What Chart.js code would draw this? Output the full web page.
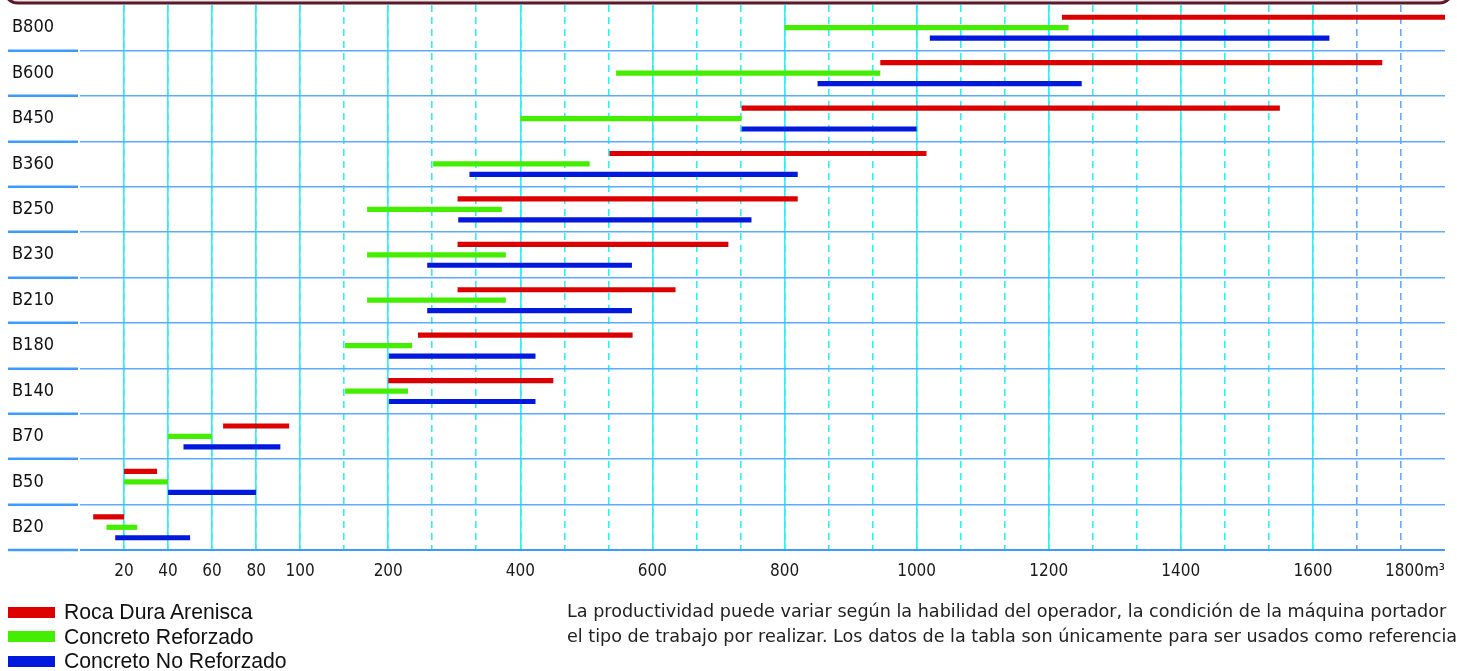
<!DOCTYPE html>
<html>
<head>
<meta charset="utf-8">
<script src="https://cdn.jsdelivr.net/npm/chart.js@4.4.1/dist/chart.umd.min.js"></script>
<style>
  html, body { margin: 0; padding: 0; background: #fff; overflow: hidden; }
  #wrap { position: relative; width: 1457px; height: 671px; overflow: hidden; }
  #chart { position: absolute; left: 0; top: 0; }
  #legend { position: absolute; left: 8px; top: 600px; font: 21.2px 'Liberation Sans', Arial, sans-serif; color: #111; }
  .item { display: flex; align-items: center; height: 24.5px; }
  .swatch { width: 47px; height: 11px; margin-right: 9px; }
  #note { position: absolute; left: 567px; top: 599px; font: 17.6px 'DejaVu Sans', sans-serif; line-height: 25px; color: #222; white-space: nowrap; }
</style>
</head>
<body>
<div id="wrap">
  <canvas id="chart" width="1457" height="671"></canvas>
  <div id="legend"></div>
  <div id="note">La productividad puede variar según la habilidad del operador, la condición de la máquina portador<br>el tipo de trabajo por realizar. Los datos de la tabla son únicamente para ser usados como referencia</div>
</div>
<script>
// breaker models, top row first
const categories = ['B800', 'B600', 'B450', 'B360', 'B250', 'B230', 'B210', 'B180', 'B140', 'B70', 'B50', 'B20'];
const seriesNames = ['Roca Dura Arenisca', 'Concreto Reforzado', 'Concreto No Reforzado'];
const seriesColors = ['#dc0000', '#44ee00', '#0019dc'];

// productivity ranges in m3, [from, to] per model
const rocaDura = [[1220, 1800], [945, 1705], [735, 1550], [535, 1015], [305, 820], [305, 715], [305, 635], [245, 570], [200, 450], [65, 95], [20, 35], [6, 20]];
const concretoReforzado = [[800, 1230], [545, 945], [400, 735], [268, 505], [176, 372], [176, 378], [176, 378], [151, 236], [151, 230], [40, 60], [20, 40], [12, 26]];
const concretoNoReforzado = [[1020, 1625], [850, 1250], [735, 1000], [323, 820], [306, 750], [259, 569], [259, 569], [201, 423], [201, 423], [47, 91], [40, 80], [16, 50]];

const tickValues = [20, 40, 60, 80, 100, 200, 400, 600, 800, 1000, 1200, 1400, 1600, 1800];
const tickLabels = ['20', '40', '60', '80', '100', '200', '400', '600', '800', '1000', '1200', '1400', '1600', '1800m³'];

const seriesData = [rocaDura, concretoReforzado, concretoNoReforzado];

// The value axis is broken: 0-100 in steps of 20, 100-200 in steps of 50,
// then steps of 200/3 up to 1800. Every step has the same width.
const STEPS = 31;
function toStep(v) {
  if (v <= 100) return v / 20;
  if (v <= 200) return 5 + (v - 100) / 50;
  return 7 + (v - 200) * 3 / 200;
}
function fromStep(p) {
  if (p <= 5) return p * 20;
  if (p <= 7) return 100 + (p - 5) * 50;
  return 200 + (p - 7) * 200 / 3;
}

class BrokenScale extends Chart.LinearScale {
  getPixelForValue(value) {
    return this.getPixelForDecimal(toStep(value) / STEPS);
  }
  getValueForPixel(pixel) {
    return fromStep(this.getDecimalForPixel(pixel) * STEPS);
  }
}
BrokenScale.id = 'broken';
BrokenScale.defaults = Chart.LinearScale.defaults;
Chart.register(BrokenScale);

const clear = 'rgba(0,0,0,0)';
const cyan = '#2ef0f0';
const narrow = "'Liberation Sans Narrow', 'DejaVu Sans Condensed', sans-serif";

// dark frame of the (cut off) title box at the top
const topFrame = {
  id: 'topFrame',
  beforeDraw(chart) {
    const c = chart.ctx;
    c.save();
    c.beginPath();
    c.roundRect(4, -40, chart.width - 8, 43, 14);
    c.fillStyle = '#ece4e8';
    c.fill();
    c.lineWidth = 3;
    c.strokeStyle = '#5b1a2a';
    c.stroke();
    c.restore();
  }
};

const chart = new Chart(document.getElementById('chart'), {
  type: 'bar',
  data: {
    labels: categories,
    datasets: seriesData.map((d, i) => ({
      label: seriesNames[i],
      data: d,
      backgroundColor: seriesColors[i],
      borderWidth: 0,
      borderSkipped: false,
      categoryPercentage: 0.69,
      barPercentage: 0.5,
    })),
  },
  options: {
    indexAxis: 'y',
    responsive: false,
    animation: false,
    layout: { padding: { left: 12, right: 12, top: 5, bottom: 81 } },
    plugins: {
      legend: { display: false },
      tooltip: { enabled: false },
    },
    scales: {
      x: {
        type: 'broken',
        position: 'bottom',
        min: 0,
        max: 1800,
        afterBuildTicks: (s) => { s.ticks = [0, ...tickValues].map((v) => ({ value: v })); },
        afterFit: (s) => { s.height = 40; },
        border: { display: false },
        grid: {
          drawTicks: false,
          lineWidth: 1.6,
          color: (ctx) => (ctx.tick && (ctx.tick.value === 0 || ctx.tick.value === 1800) ? clear : cyan),
        },
        ticks: {
          autoSkip: false,
          maxRotation: 0,
          align: 'inner',
          padding: 11,
          color: '#1a1a1a',
          font: { family: narrow, size: 17 },
          callback: (v) => {
            const i = tickValues.indexOf(v);
            return i < 0 ? '' : tickLabels[i];
          },
        },
      },
      x2: {
        type: 'broken',
        axis: 'x',
        position: 'bottom',
        min: 0,
        max: 1800,
        afterBuildTicks: (s) => {
          const t = [];
          for (let p = 1; p < STEPS; p++) t.push({ value: fromStep(p) });
          s.ticks = t;
        },
        afterFit: (s) => { s.height = 0; },
        border: { display: false, dash: [7, 5] },
        grid: {
          drawTicks: false,
          lineWidth: 1.6,
          color: (ctx) => (ctx.tick && ctx.tick.value > 1600 ? '#6aa8f8' : cyan),
        },
        ticks: { display: false },
      },
      y: {
        type: 'category',
        offset: true,
        afterFit: (s) => {
          s.width = 68;
          s.paddingTop = 0;
          s.paddingBottom = 0;
        },
        border: { display: false },
        grid: {
          offset: true,
          color: (ctx) => (ctx.index === 0 ? clear : (ctx.index === undefined ? '#3d9bff' : '#5aacff')),
          lineWidth: (ctx) => (ctx.index === undefined ? 2 : 1.5),
          tickLength: 72,
          tickWidth: 2.5,
          tickColor: (ctx) => (ctx.index === 0 ? clear : '#3d9bff'),
          tickBorderDash: [70, 10],
        },
        ticks: {
          crossAlign: 'far',
          padding: 0,
          color: '#111',
          font: { family: narrow, size: 18 },
        },
      },
    },
  },
  plugins: [topFrame],
});

// legend below the chart, one entry per line
const legendEl = document.getElementById('legend');
chart.data.datasets.forEach((ds) => {
  const item = document.createElement('div');
  item.className = 'item';
  const sw = document.createElement('span');
  sw.className = 'swatch';
  sw.style.background = ds.backgroundColor;
  const txt = document.createElement('span');
  txt.textContent = ds.label;
  item.appendChild(sw);
  item.appendChild(txt);
  legendEl.appendChild(item);
});
</script>
</body>
</html>
